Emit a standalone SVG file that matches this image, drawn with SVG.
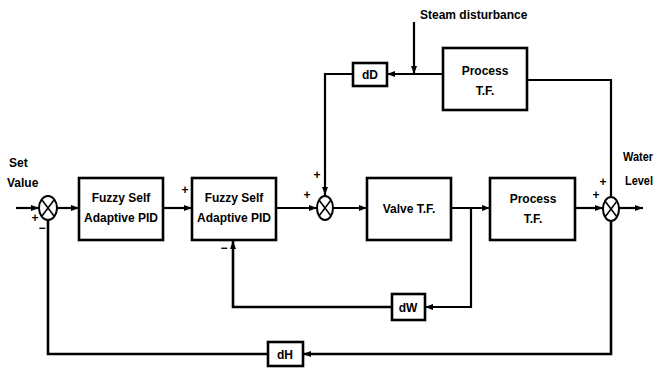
<svg xmlns="http://www.w3.org/2000/svg" width="656" height="369" viewBox="0 0 656 369">
<style>
.box{fill:#fff;stroke:#000;stroke-width:2.6}
.ln{fill:none;stroke:#000;stroke-width:2.2}
.sum{fill:#fff;stroke:#000;stroke-width:2}
.t{font-family:"Liberation Sans",Arial,sans-serif;font-weight:bold;font-size:12px;fill:#000}
.c{text-anchor:middle}
.s{font-family:"Liberation Sans",Arial,sans-serif;font-weight:bold;font-size:12px;fill:#000;text-anchor:middle}
</style>
<defs>
<marker id="ah" markerWidth="8" markerHeight="6" refX="8" refY="3" orient="auto" markerUnits="userSpaceOnUse">
<path d="M0,0 L8,3 L0,6 z" fill="#000"/>
</marker>
</defs>
<rect width="656" height="369" fill="#fff"/>
<g id="connectors">
<line class="ln" x1="16" y1="208" x2="39" y2="208" marker-end="url(#ah)"/>
<line class="ln" x1="57" y1="208" x2="79" y2="208" marker-end="url(#ah)"/>
<line class="ln" x1="163" y1="208" x2="192" y2="208" marker-end="url(#ah)"/>
<line class="ln" x1="276" y1="208" x2="317" y2="208" marker-end="url(#ah)"/>
<line class="ln" x1="333" y1="208" x2="367" y2="208" marker-end="url(#ah)"/>
<line class="ln" x1="451" y1="208" x2="490" y2="208" marker-end="url(#ah)"/>
<line class="ln" x1="575" y1="208" x2="603" y2="208" marker-end="url(#ah)"/>
<line class="ln" x1="619" y1="208" x2="643" y2="208" marker-end="url(#ah)"/>
<polyline class="ln" points="527,80 611,80 611,196"/>
<line class="ln" x1="443" y1="74" x2="387" y2="74" marker-end="url(#ah)"/>
<line class="ln" x1="414" y1="22" x2="414" y2="74" marker-end="url(#ah)"/>
<polyline class="ln" points="353,74 325,74 325,195" marker-end="url(#ah)"/>
<polyline class="ln" points="471,208 471,307 425,307" marker-end="url(#ah)"/>
<polyline class="ln" points="392,307 233,307 233,241" marker-end="url(#ah)" style="stroke-width:2.6"/>
<polyline class="ln" points="611,222 611,354 303,354" marker-end="url(#ah)" style="stroke-width:2.6"/>
<polyline class="ln" points="268,354 48,354 48,220" style="stroke-width:2.6"/>
</g>
<g id="sum1">
<ellipse class="sum" cx="48" cy="208" rx="9" ry="12"/>
<line class="ln" x1="42" y1="200" x2="54" y2="216" style="stroke-width:1.6"/>
<line class="ln" x1="54" y1="200" x2="42" y2="216" style="stroke-width:1.6"/>
</g>
<g id="sum2">
<ellipse class="sum" cx="325" cy="208" rx="8" ry="12"/>
<line class="ln" x1="319" y1="200" x2="331" y2="216" style="stroke-width:1.6"/>
<line class="ln" x1="331" y1="200" x2="319" y2="216" style="stroke-width:1.6"/>
</g>
<g id="sum3">
<ellipse class="sum" cx="611" cy="209" rx="8" ry="12"/>
<line class="ln" x1="605" y1="201" x2="617" y2="217" style="stroke-width:1.6"/>
<line class="ln" x1="617" y1="201" x2="605" y2="217" style="stroke-width:1.6"/>
</g>
<g id="pid1">
<rect class="box" x="79" y="178" width="84" height="62"/>
<text class="t c" x="121" y="202">Fuzzy Self</text>
<text class="t c" x="121" y="222">Adaptive PID</text>
</g>
<g id="pid2">
<rect class="box" x="192" y="178" width="84" height="62"/>
<text class="t c" x="234" y="202">Fuzzy Self</text>
<text class="t c" x="234" y="222">Adaptive PID</text>
</g>
<g id="valve">
<rect class="box" x="367" y="178" width="84" height="62"/>
<text class="t c" x="409" y="213">Valve T.F.</text>
</g>
<g id="process1">
<rect class="box" x="490" y="178" width="85" height="62"/>
<text class="t c" x="533" y="203">Process</text>
<text class="t c" x="533" y="223">T.F.</text>
</g>
<g id="process2">
<rect class="box" x="443" y="48" width="84" height="62"/>
<text class="t c" x="485" y="75">Process</text>
<text class="t c" x="485" y="95">T.F.</text>
</g>
<g id="dD">
<rect class="box" x="353" y="63" width="34" height="23"/>
<text class="t c" x="370" y="79">dD</text>
</g>
<g id="dW">
<rect class="box" x="392" y="294" width="33" height="26"/>
<text class="t c" x="408" y="312">dW</text>
</g>
<g id="dH">
<rect class="box" x="268" y="342" width="35" height="24"/>
<text class="t c" x="285" y="359">dH</text>
</g>
<g id="labels">
<text class="t" x="9" y="167">Set</text>
<text class="t" x="7" y="187">Value</text>
<text class="t" x="420" y="19">Steam disturbance</text>
<text class="t" x="623" y="161" textLength="30" lengthAdjust="spacingAndGlyphs">Water</text>
<text class="t" x="625" y="185" textLength="28" lengthAdjust="spacingAndGlyphs">Level</text>
<text class="s" x="35" y="222">+</text>
<text class="s" x="42" y="232">−</text>
<text class="s" x="185" y="194">+</text>
<text class="s" x="307" y="199">+</text>
<text class="s" x="317" y="179">+</text>
<text class="s" x="224" y="252">−</text>
<text class="s" x="603" y="186">+</text>
<text class="s" x="596" y="199">+</text>
</g>
</svg>
